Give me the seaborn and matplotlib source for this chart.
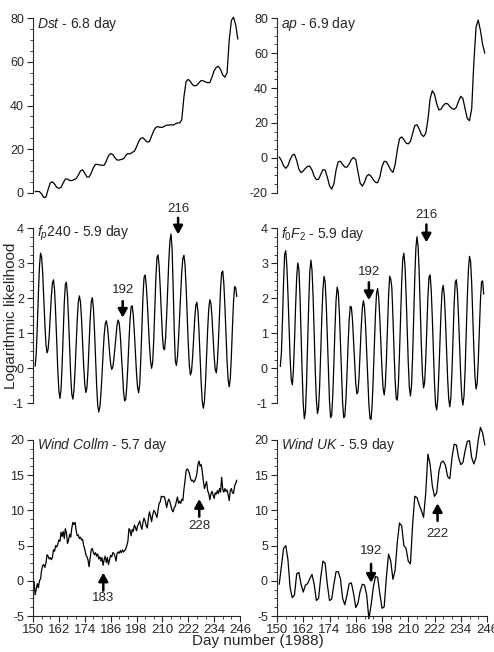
import numpy as np
import matplotlib
matplotlib.use('Agg')
import matplotlib.pyplot as plt
from matplotlib.ticker import MultipleLocator, AutoMinorLocator
import seaborn as sns

# valeurs (jour 1988 -> valeur)
dst_days = np.arange(151, 246)
dst_vals = [0.5, 0.6, 0.5, -0.5, -2.2, -2.0, 1.5, 4.5, 5.0, 4.0,
            2.5, 2.0, 2.5, 4.5, 6.3, 6.3, 5.6, 5.6, 6.0, 6.5,
            8.0, 10.0, 10.5, 9.0, 7.2, 7.2, 9.0, 11.5, 13.0, 13.0,
            12.7, 12.6, 12.6, 14.5, 17.0, 18.0, 17.5, 16.0, 15.0, 15.0,
            15.3, 15.6, 17.0, 18.0, 17.8, 18.5, 19.0, 21.0, 23.5, 25.0,
            25.2, 24.2, 23.2, 23.5, 26.0, 28.5, 30.0, 30.3, 30.0, 30.0,
            30.5, 31.0, 31.0, 31.2, 31.0, 31.6, 32.0, 32.0, 33.5, 44.0,
            51.0, 52.0, 51.0, 49.5, 49.0, 49.3, 50.5, 51.5, 51.3, 50.8,
            50.5, 50.5, 53.0, 56.0, 57.5, 58.0, 56.5, 54.0, 53.0, 55.0,
            70.0, 79.0, 80.5, 77.0, 70.5]

ap_days = np.arange(151, 246)
ap_vals = [0.5, -1.5, -4.5, -6.0, -4.5, -1.0, 1.5, 2.0, -1.5, -6.5,
           -8.5, -7.5, -6.0, -4.9, -4.8, -7.0, -10.5, -12.5, -12.3, -9.5,
           -6.8, -7.0, -11.0, -16.0, -18.0, -15.0, -7.0, -2.2, -2.0, -3.8,
           -5.3, -5.3, -3.5, -1.0, 0.2, -1.0, -8.0, -14.5, -16.2, -14.0,
           -10.5, -9.5, -10.5, -12.5, -14.0, -14.3, -11.0, -5.0, -2.0, -2.2,
           -4.5, -7.0, -8.3, -4.0, 4.5, 11.0, 12.0, 10.5, 8.5, 8.0,
           9.5, 14.0, 18.5, 19.0, 16.5, 13.5, 12.2, 14.0, 22.0, 34.0,
           38.5, 36.5, 31.0, 27.5, 28.0, 30.0, 31.2, 31.0, 29.5, 28.2,
           27.8, 29.0, 32.5, 35.3, 34.0, 28.0, 22.5, 21.3, 28.0, 55.0,
           75.0, 79.0, 73.0, 65.0, 60.0]

# f_p240 : un point par demi-journee, de 151.0 a 244.5
fp_days = np.arange(151.0, 244.75, 0.5)
fp_vals = [0.06, 0.43, 1.20, 2.14, 2.92, 3.29, 3.18, 2.71, 2.01, 1.28,
           0.70, 0.44, 0.54, 0.92, 1.49, 2.05, 2.43, 2.53, 2.24, 1.58,
           0.76, -0.05, -0.65, -0.86, -0.61, 0.09, 1.00, 1.86, 2.40, 2.46,
           2.08, 1.39, 0.55, -0.22, -0.75, -0.88, -0.63, -0.06, 0.66, 1.37,
           1.89, 2.07, 1.90, 1.42, 0.75, 0.07, -0.45, -0.69, -0.56, -0.06,
           0.67, 1.39, 1.89, 2.02, 1.74, 1.11, 0.31, -0.47, -1.05, -1.25,
           -1.11, -0.73, -0.19, 0.41, 0.94, 1.27, 1.36, 1.20, 0.87, 0.46,
           0.13, -0.03, 0.03, 0.26, 0.60, 0.96, 1.25, 1.38, 1.28, 0.93,
           0.39, -0.19, -0.67, -0.93, -0.89, -0.52, 0.08, 0.78, 1.38, 1.75,
           1.79, 1.53, 1.03, 0.43, -0.14, -0.55, -0.70, -0.44, 0.26, 1.18,
           2.05, 2.60, 2.67, 2.40, 1.90, 1.28, 0.67, 0.22, 0.00, 0.17,
           0.82, 1.73, 2.62, 3.17, 3.24, 2.92, 2.31, 1.60, 0.96, 0.57,
           0.53, 0.88, 1.53, 2.33, 3.10, 3.64, 3.84, 3.42, 2.33, 1.10,
           0.21, 0.08, 0.33, 0.85, 1.50, 2.18, 2.77, 3.14, 3.23, 2.96,
           2.34, 1.53, 0.71, 0.09, -0.19, -0.09, 0.30, 0.86, 1.41, 1.80,
           1.89, 1.63, 1.05, 0.30, -0.42, -0.95, -1.14, -0.94, -0.41, 0.34,
           1.11, 1.69, 1.96, 1.86, 1.48, 0.92, 0.35, -0.03, -0.13, 0.16,
           0.79, 1.57, 2.30, 2.73, 2.78, 2.43, 1.78, 0.98, 0.21, -0.33,
           -0.53, -0.29, 0.35, 1.18, 1.92, 2.34, 2.30, 2.05]

# f0F2 : un point par demi-journee, de 151.5 a 244.5
fof2_days = np.arange(151.5, 244.75, 0.5)
fof2_vals = [0.05, 0.42, 1.38, 2.47, 3.26, 3.36, 2.93, 2.14, 1.17, 0.29,
             -0.32, -0.47, -0.07, 0.76, 1.77, 2.61, 3.01, 2.83, 2.10, 1.02,
             -0.12, -1.02, -1.44, -1.24, -0.45, 0.70, 1.86, 2.77, 3.09, 2.81,
             2.05, 1.00, -0.08, -0.90, -1.29, -1.13, -0.49, 0.47, 1.47, 2.27,
             2.63, 2.47, 1.85, 0.90, -0.12, -0.95, -1.41, -1.35, -0.77, 0.13,
             1.14, 1.94, 2.32, 2.18, 1.60, 0.72, -0.22, -0.99, -1.41, -1.37,
             -0.91, -0.16, 0.69, 1.39, 1.77, 1.75, 1.39, 0.79, 0.13, -0.43,
             -0.73, -0.68, -0.25, 0.43, 1.17, 1.72, 1.93, 1.74, 1.21, 0.46,
             -0.35, -1.02, -1.43, -1.46, -1.04, -0.26, 0.68, 1.54, 2.14, 2.28,
             2.02, 1.43, 0.69, -0.04, -0.57, -0.76, -0.49, 0.23, 1.18, 2.07,
             2.63, 2.55, 2.30, 1.46, 0.51, -0.34, -0.86, -0.91, -0.44, 0.44,
             1.49, 2.46, 3.13, 3.29, 2.94, 2.15, 1.15, 0.18, -0.54, -0.79,
             -0.49, 0.35, 1.49, 2.62, 3.45, 3.76, 3.49, 2.74, 1.70, 0.63,
             -0.18, -0.56, -0.40, 0.25, 1.16, 2.06, 2.61, 2.67, 2.24, 1.44,
             0.46, -0.43, -1.04, -1.19, -0.86, -0.13, 0.78, 1.64, 2.23, 2.37,
             2.07, 1.40, 0.55, -0.28, -0.88, -1.10, -0.82, -0.06, 0.94, 1.88,
             2.47, 2.53, 2.16, 1.45, 0.58, -0.24, -0.84, -1.05, -0.78, -0.04,
             0.97, 2.03, 2.82, 3.20, 3.05, 2.43, 1.50, 0.53, -0.24, -0.59,
             -0.43, 0.19, 1.08, 1.94, 2.47, 2.50, 2.12]

collm_days = np.arange(150.5, 244.75, 0.5)
collm_vals = [-0.1, -2.0, -1.2, -0.4, -1.0, 0.0, 0.3, 1.5, 2.2, 2.3,
              1.9, 2.5, 3.7, 3.5, 3.1, 3.3, 3.0, 3.3, 4.4, 4.2,
              5.0, 4.8, 5.2, 5.8, 5.6, 6.9, 6.3, 7.0, 6.0, 7.4,
              6.8, 5.3, 5.8, 6.6, 6.2, 7.5, 8.3, 8.0, 8.3, 7.2,
              6.4, 6.5, 6.0, 6.2, 5.8, 5.9, 5.0, 4.5, 3.7, 3.4,
              3.0, 2.0, 3.2, 4.4, 4.6, 4.0, 3.7, 4.0, 3.5, 3.8,
              3.1, 3.4, 2.8, 3.3, 2.2, 3.0, 3.5, 2.6, 3.3, 2.3,
              3.0, 3.6, 3.4, 4.0, 3.9, 3.5, 2.8, 3.9, 4.1, 3.9,
              4.3, 4.0, 4.4, 4.1, 4.3, 4.5, 5.0, 5.6, 7.4, 7.2,
              6.4, 7.3, 7.0, 7.9, 7.6, 7.1, 7.8, 8.1, 8.5, 7.8,
              7.3, 8.3, 8.9, 8.5, 7.8, 7.5, 8.8, 9.8, 9.2, 8.4,
              9.3, 10.0, 9.8, 9.4, 9.0, 10.1, 11.0, 11.2, 12.0, 11.9,
              12.0, 11.9, 11.2, 10.4, 11.2, 11.6, 11.2, 10.6, 10.0, 9.8,
              10.4, 10.6, 11.3, 11.9, 11.0, 11.3, 11.0, 11.6, 11.4, 13.0,
              14.2, 15.6, 15.9, 15.7, 15.3, 14.6, 14.2, 14.3, 14.0, 14.2,
              14.6, 15.2, 16.5, 17.0, 16.3, 16.5, 15.5, 14.2, 13.1, 13.6,
              14.1, 12.8, 12.4, 11.5, 12.3, 12.7, 12.2, 11.7, 12.5, 12.3,
              12.8, 12.4, 13.1, 12.6, 14.7, 13.0, 12.6, 13.1, 12.7, 12.9,
              12.2, 11.4, 12.8, 13.1, 12.5, 12.4, 13.5, 13.8, 14.3]

uk_days = np.arange(151, 246)
uk_vals = [-0.5,
           2.0, 4.6, 5.0, 3.0, -1.0, -2.4, -2.0, 1.0, 1.2, -0.5,
           -1.6, -0.6, -0.4, 0.3, 0.9, -0.5, -2.8, -2.5, 0.5, 2.8,
           2.5, -0.5, -2.8, -2.6, -0.5, 1.3, 1.3, 0.3, -2.5, -3.4,
           -2.0, -0.4, -0.3, -1.8, -3.8, -3.2, -1.5, -0.5, -0.6, -2.0,
           -5.4, -3.5, -1.0, 0.6, 0.5, -1.8, -3.9, -3.7, 0.5, 3.8,
           2.8, 0.2, 1.5, 5.5, 8.2, 7.8, 5.0, 4.6, 2.8, 2.4,
           8.0, 12.0, 11.8, 10.8, 10.0, 9.0, 12.5, 18.0, 16.5, 13.5,
           12.0, 12.5, 15.5, 16.8, 17.0, 16.4, 14.8, 14.5, 17.5, 19.4,
           19.3, 17.5, 16.5, 16.8, 18.5, 19.8, 19.9, 17.5, 16.6, 17.5,
           20.0, 21.8, 21.0, 19.3]

xticks = list(range(150, 247, 12))

sns.set_style('ticks')
plt.rcParams['font.family'] = ['Liberation Sans', 'DejaVu Sans']
plt.rcParams['mathtext.fontset'] = 'custom'
plt.rcParams['mathtext.rm'] = 'Liberation Sans'
plt.rcParams['mathtext.it'] = 'Liberation Sans:italic'
plt.rcParams['axes.unicode_minus'] = False

fig = plt.figure(figsize=(4.94, 6.52), dpi=100)

left_x, left_w = 33 / 494, 207 / 494
right_x, right_w = 277 / 494, 210 / 494
rows = [(0.7044, 0.2675), (0.3814, 0.2684), (0.0552, 0.27)]


def panel(pos, days, vals, ylim, ystep, title, bottom=False):
    ax = fig.add_axes(pos)
    sns.lineplot(x=days, y=vals, ax=ax, color='k', lw=0.9,
                 estimator=None, clip_on=False)
    ax.set_xlim(150, 246)
    ax.set_ylim(*ylim)
    ax.yaxis.set_major_locator(MultipleLocator(ystep))
    ax.yaxis.set_minor_locator(AutoMinorLocator(4))
    sns.despine(ax=ax)
    ax.spines['left'].set_linewidth(0.8)
    ax.tick_params(axis='y', which='major', length=4, width=0.8,
                   labelsize=9, pad=2.5)
    ax.tick_params(axis='y', which='minor', length=2.2, width=0.6)
    if bottom:
        ax.set_xticks(xticks)
        ax.xaxis.set_minor_locator(AutoMinorLocator(3))
        ax.spines['bottom'].set_linewidth(0.8)
        ax.tick_params(axis='x', which='major', length=4, width=0.8,
                       labelsize=9.5, pad=1.5)
        ax.tick_params(axis='x', which='minor', length=2.2, width=0.6)
    else:
        ax.spines['bottom'].set_visible(False)
        ax.tick_params(axis='x', which='both', bottom=False,
                       labelbottom=False)
    ax.set_xlabel('')
    ax.set_ylabel('')
    ax.text(0.018, 0.97, title, transform=ax.transAxes, ha='left',
            va='center', fontsize=10)
    return ax


def arrow(ax, day, y_from, y_to, label, y_lab):
    ax.annotate('', xy=(day, y_to), xytext=(day, y_from),
                annotation_clip=False,
                arrowprops=dict(arrowstyle='-|>,head_width=0.28,head_length=0.5',
                                color='k', lw=1.8, shrinkA=0, shrinkB=0))
    ax.text(day, y_lab, label, ha='center', va='center', fontsize=9.5)


ax1 = panel([left_x, rows[0][0], left_w, rows[0][1]], dst_days, dst_vals,
            (0, 80), 20, r'$\mathit{Dst}$ - 6.8 day')
ax2 = panel([right_x, rows[0][0], right_w, rows[0][1]], ap_days, ap_vals,
            (-20, 80), 20, r'$\mathit{ap}$ - 6.9 day')
ax3 = panel([left_x, rows[1][0], left_w, rows[1][1]], fp_days, fp_vals,
            (-1, 4), 1, r'$\mathit{f_p240}$ - 5.9 day')
ax4 = panel([right_x, rows[1][0], right_w, rows[1][1]], fof2_days, fof2_vals,
            (-1, 4), 1, r'$\mathit{f_0F_2}$ - 5.9 day')
ax5 = panel([left_x, rows[2][0], left_w, rows[2][1]], collm_days, collm_vals,
            (-5, 20), 5, r'$\mathit{Wind\ Collm}$ - 5.7 day', bottom=True)
ax6 = panel([right_x, rows[2][0], right_w, rows[2][1]], uk_days, uk_vals,
            (-5, 20), 5, r'$\mathit{Wind\ UK}$ - 5.9 day', bottom=True)

arrow(ax3, 217.3, 4.30, 3.83, '216', 4.55)
arrow(ax3, 191.6, 1.92, 1.45, '192', 2.24)
arrow(ax4, 218.3, 4.11, 3.60, '216', 4.38)
arrow(ax4, 192.0, 2.46, 1.95, '192', 2.76)
arrow(ax5, 182.6, -1.4, 1.15, '183', -2.5)
arrow(ax5, 227.1, 9.1, 11.6, '228', 7.8)
arrow(ax6, 193.0, 2.4, -0.27, '192', 4.2)
arrow(ax6, 223.4, 8.5, 11.0, '222', 6.6)

fig.text(0.522, 0.0165, 'Day number (1988)', ha='center', va='center',
         fontsize=11)
fig.text(0.0223, 0.515, 'Logarithmic likelihood', ha='center', va='center',
         rotation=90, fontsize=11)

fig.savefig('out.png', dpi=100)
